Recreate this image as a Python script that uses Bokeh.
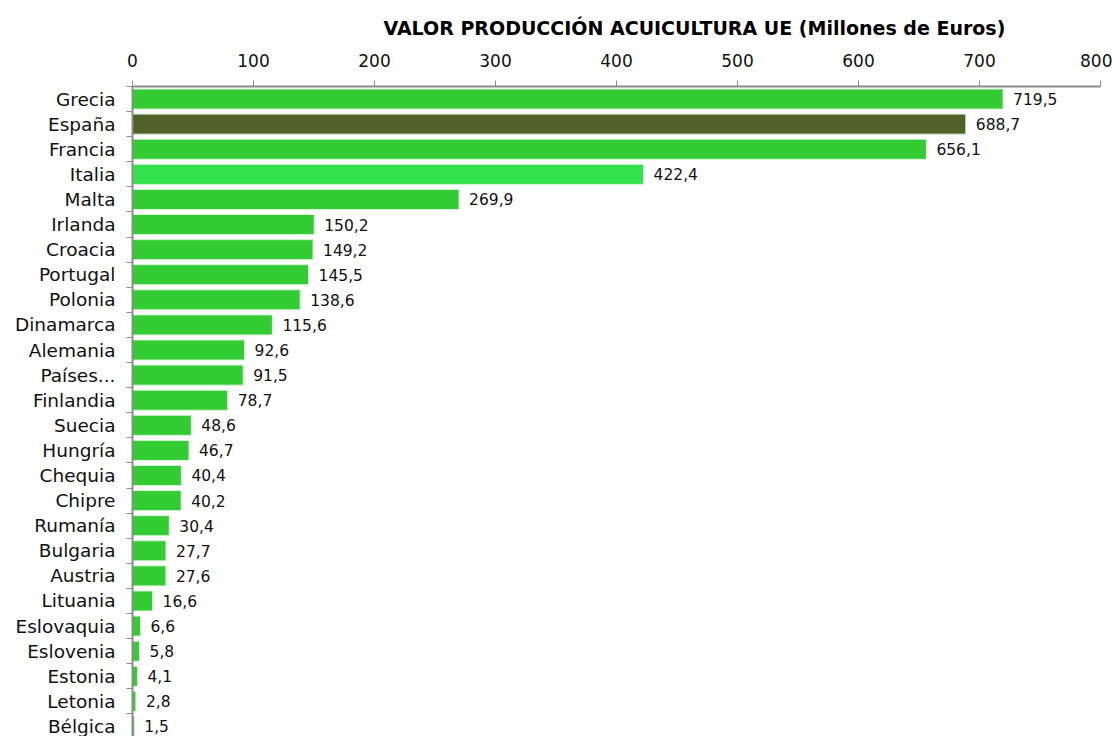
from bokeh.plotting import figure
from bokeh.models import ColumnDataSource, Range1d, FixedTicker
from bokeh.embed import file_html
from bokeh.resources import INLINE
from bokeh.core.properties import value

# ---- data ----
paises = ["Grecia", "España", "Francia", "Italia", "Malta", "Irlanda", "Croacia",
          "Portugal", "Polonia", "Dinamarca", "Alemania", "Países...", "Finlandia",
          "Suecia", "Hungría", "Chequia", "Chipre", "Rumanía", "Bulgaria", "Austria",
          "Lituania", "Eslovaquia", "Eslovenia", "Estonia", "Letonia", "Bélgica"]
valores = [719.5, 688.7, 656.1, 422.4, 269.9, 150.2, 149.2, 145.5, 138.6, 115.6,
           92.6, 91.5, 78.7, 48.6, 46.7, 40.4, 40.2, 30.4, 27.7, 27.6,
           16.6, 6.6, 5.8, 4.1, 2.8, 1.5]
x_ticks = [0, 100, 200, 300, 400, 500, 600, 700, 800]

VERDE = "#33CC33"
colores = {"España": "#4F6228", "Italia": "#33E34D"}

n = len(paises)
idx = list(range(n))
src = ColumnDataSource(dict(
    y=idx,
    v=valores,
    color=[colores.get(p, VERDE) for p in paises],
    lbl=[f"{v:.1f}".replace(".", ",") for v in valores],
))

FONT = "DejaVu Sans"

p = figure(width=1112, height=736, output_backend="svg", toolbar_location=None,
           x_range=Range1d(0, 800), y_range=Range1d(n - 0.6, -0.5),
           x_axis_location="above", min_border_left=132, min_border_right=12,
           min_border_top=86, min_border_bottom=0)
p.outline_line_color = None
p.grid.grid_line_color = None
p.background_fill_color = "white"

p.title.text = "VALOR PRODUCCIÓN ACUICULTURA UE (Millones de Euros)"
p.title.text_font = FONT
p.title.text_font_size = "19px"
p.title.text_font_style = "bold"
p.title.text_color = "#000000"
p.title.align = "left"
p.title.offset = 251
p.title.standoff = 23

p.hbar(y="y", right="v", left=0, height=0.8, fill_color="color",
       line_color="#D8F5D8", line_width=1, source=src)

p.text(x="v", y="y", text="lbl", source=src, x_offset=10,
       text_baseline="middle", text_align="left",
       text_font=value(FONT), text_font_size="15.5px", text_color="#111111")

xa = p.xaxis[0]
xa.ticker = FixedTicker(ticks=x_ticks)
xa.major_label_text_font = FONT
xa.major_label_text_font_size = "17px"
xa.major_label_text_color = "#111111"
xa.axis_line_color = "#8C8C8C"
xa.axis_line_width = 2
xa.major_tick_line_color = "#8C8C8C"
xa.major_tick_out = 6
xa.major_tick_in = 0
xa.minor_tick_line_color = None
xa.major_label_standoff = 14

ya = p.yaxis[0]
ya.ticker = FixedTicker(ticks=idx, minor_ticks=[i - 0.5 for i in range(n + 1)])
ya.major_label_overrides = {i: name for i, name in enumerate(paises)}
ya.major_label_text_font = FONT
ya.major_label_text_font_size = "18.5px"
ya.major_label_text_color = "#111111"
ya.axis_line_color = "#8C8C8C"
ya.axis_line_width = 2
ya.major_tick_line_color = None
ya.minor_tick_line_color = "#8C8C8C"
ya.minor_tick_out = 6
ya.minor_tick_in = 0
ya.major_label_standoff = 11

open("out.html", "w").write(file_html(p, INLINE))
